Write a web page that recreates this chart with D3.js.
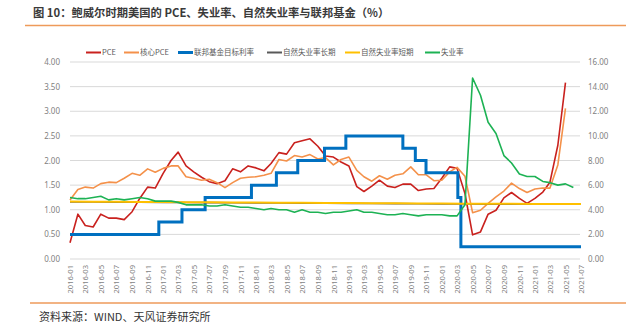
<!DOCTYPE html>
<html><head><meta charset="utf-8">
<script src="https://cdn.jsdelivr.net/npm/d3@7"></script>
<style>
html,body{margin:0;padding:0;background:#fff;}
svg{display:block;font-family:"Noto Sans CJK SC","Noto Sans",sans-serif;}
</style></head>
<body>
<svg id="c" width="626" height="336"></svg>
<script>
// ---- data ----
const startMonth = "2016-01";
const pce = [0.33,0.91,0.68,0.65,0.91,0.83,0.83,0.80,0.96,1.23,1.46,1.44,
  1.74,2.00,2.17,1.89,1.77,1.66,1.57,1.53,1.59,1.83,1.77,1.89,
  1.85,1.79,1.94,2.16,2.13,2.36,2.40,2.44,2.29,2.09,2.07,1.97,
  1.89,1.47,1.37,1.48,1.60,1.48,1.45,1.52,1.52,1.39,1.42,1.43,
  1.64,1.87,1.84,1.33,0.49,0.55,0.91,0.99,1.24,1.35,1.23,1.13,
  1.23,1.36,1.56,2.31,3.58];
const corePce = [1.20,1.41,1.46,1.44,1.53,1.56,1.55,1.64,1.74,1.70,1.83,1.76,
  1.84,1.89,1.89,1.67,1.64,1.60,1.62,1.55,1.45,1.55,1.64,1.66,
  1.67,1.70,1.74,2.02,1.99,2.10,2.07,2.12,2.03,2.06,1.91,2.02,
  2.07,1.80,1.67,1.58,1.69,1.62,1.70,1.73,1.87,1.71,1.71,1.59,
  1.60,1.77,1.86,1.68,0.94,0.99,1.13,1.26,1.38,1.54,1.43,1.35,
  1.42,1.44,1.44,1.91,3.06];
const unemployment = [5.0,4.9,4.9,5.0,5.1,4.8,4.9,4.8,4.9,5.0,4.9,4.7,
  4.7,4.7,4.6,4.4,4.4,4.4,4.3,4.3,4.4,4.3,4.2,4.2,
  4.1,4.0,4.1,4.0,4.0,3.8,4.0,3.8,3.8,3.7,3.8,3.8,
  3.9,4.0,3.8,3.8,3.7,3.6,3.6,3.7,3.6,3.5,3.6,3.6,
  3.6,3.5,3.5,4.4,14.7,13.3,11.1,10.2,8.4,7.8,6.9,6.7,
  6.7,6.3,6.2,6.0,6.1,5.8];
// quarterly natural rate estimates (2016Q1 ... 2021Q3)
const nruLong = [4.64,4.63,4.62,4.61,4.60,4.59,4.58,4.57,4.56,4.55,4.54,4.53,
  4.52,4.51,4.50,4.49,4.48,4.47,4.46,4.46,4.45,4.45,4.45];
const nruShort = [4.66,4.65,4.64,4.63,4.62,4.61,4.60,4.59,4.58,4.57,4.56,4.55,
  4.54,4.53,4.52,4.51,4.50,4.49,4.48,4.48,4.47,4.47,4.47];
const fedDates = ["2016-01-01","2016-12-15","2017-03-16","2017-06-15","2017-12-14",
  "2018-03-22","2018-06-14","2018-09-27","2018-12-20","2019-08-01","2019-09-19",
  "2019-10-31","2020-03-04","2020-03-16","2021-07-01"];
const fedRate = [0.50,0.75,1.00,1.25,1.50,1.75,2.00,2.25,2.50,2.25,2.00,1.75,1.25,0.25,0.25];
const leftTicks = [0,0.5,1,1.5,2,2.5,3,3.5,4];
const rightTicks = [0,2,4,6,8,10,12,14,16];
const xTickLabels = ["2016-01","2016-03","2016-05","2016-07","2016-09","2016-11",
  "2017-01","2017-03","2017-05","2017-07","2017-09","2017-11",
  "2018-01","2018-03","2018-05","2018-07","2018-09","2018-11",
  "2019-01","2019-03","2019-05","2019-07","2019-09","2019-11",
  "2020-01","2020-03","2020-05","2020-07","2020-09","2020-11",
  "2021-01","2021-03","2021-05","2021-07"];
const seriesNames = ["PCE","核心PCE","联邦基金目标利率","自然失业率长期","自然失业率短期","失业率"];
const seriesColors = ["#C9211E","#F4914A","#0070C0","#595959","#FFC000","#1DB254"];

// ---- helpers ----
const parseM = d3.timeParse("%Y-%m");
const parseD = d3.timeParse("%Y-%m-%d");
const m0 = parseM(startMonth);
const monthly = arr => arr.map((v,i)=>({d:d3.timeMonth.offset(m0,i), v}));
const quarterly = arr => arr.map((v,i)=>({d:d3.timeMonth.offset(m0,i*3), v}));

const svg = d3.select("#c");
const x = d3.scaleTime().domain([parseM("2016-01"), parseM("2021-07")]).range([70, 581]);
const yL = d3.scaleLinear().domain([0,4]).range([259, 62]);
const yR = d3.scaleLinear().domain([0,16]).range([259, 62]);

// title
svg.append("text").attr("x",33).attr("y",17).attr("font-size",11.3).attr("font-weight","bold")
  .attr("fill","#3a3a3a").text("图 10：鲍威尔时期美国的 PCE、失业率、自然失业率与联邦基金（%）");
svg.append("line").attr("x1",25).attr("x2",626).attr("y1",25.5).attr("y2",25.5)
  .attr("stroke","#EE9A5A").attr("stroke-width",1.5);
svg.append("line").attr("x1",30).attr("x2",626).attr("y1",303).attr("y2",303)
  .attr("stroke","#EE9A5A").attr("stroke-width",1.5);
svg.append("text").attr("x",39).attr("y",321).attr("font-size",11)
  .attr("fill","#333").text("资料来源：WIND、天风证券研究所");

// gridlines
svg.append("g").selectAll("line").data(leftTicks).join("line")
  .attr("x1",70).attr("x2",580).attr("y1",d=>yL(d)).attr("y2",d=>yL(d))
  .attr("stroke","#d9d9d9").attr("stroke-width",1);

// left axis
const axL = svg.append("g").attr("transform","translate(70,0)")
  .call(d3.axisLeft(yL).tickValues(leftTicks).tickFormat(d3.format(".2f")).tickSize(0).tickPadding(10));
axL.select(".domain").remove();
axL.selectAll("text").attr("font-size",8).attr("fill","#7f7f7f").attr("font-family","'Noto Sans','DejaVu Sans',sans-serif");
// right axis
const axR = svg.append("g").attr("transform","translate(580,0)")
  .call(d3.axisRight(yR).tickValues(rightTicks).tickFormat(d3.format(".2f")).tickSize(0).tickPadding(8));
axR.select(".domain").remove();
axR.selectAll("text").attr("font-size",8).attr("fill","#7f7f7f").attr("font-family","'Noto Sans','DejaVu Sans',sans-serif");
// x axis
const axX = svg.append("g").attr("transform","translate(0,259)")
  .call(d3.axisBottom(x).tickValues(xTickLabels.map(parseM)).tickFormat(d3.timeFormat("%Y-%m")).tickSize(0));
axX.select(".domain").remove();
axX.selectAll("text").attr("font-size",7.6).attr("fill","#7f7f7f")
  .attr("font-family","'Noto Sans','DejaVu Sans',sans-serif")
  .attr("text-anchor","end").attr("transform","rotate(-90)")
  .attr("x",-6).attr("y",0).attr("dy","0.35em");

// lines
const lineL = d3.line().x(d=>x(d.d)).y(d=>yL(d.v));
const lineR = d3.line().x(d=>x(d.d)).y(d=>yR(d.v));
const stepL = d3.line().x(d=>x(d.d)).y(d=>yL(d.v)).curve(d3.curveStepAfter);
const g = svg.append("g").attr("fill","none").attr("stroke-linejoin","round");
g.append("path").attr("d",lineL(monthly(pce))).attr("stroke",seriesColors[0]).attr("stroke-width",1.6);
g.append("path").attr("d",lineL(monthly(corePce))).attr("stroke",seriesColors[1]).attr("stroke-width",1.6);
g.append("path").attr("d",stepL(fedDates.map((s,i)=>({d:parseD(s),v:fedRate[i]}))))
  .attr("stroke",seriesColors[2]).attr("stroke-width",3).attr("stroke-linejoin","miter");
g.append("path").attr("d",lineR(quarterly(nruLong))).attr("stroke",seriesColors[3]).attr("stroke-width",1.6);
g.append("path").attr("d",lineR(quarterly(nruShort))).attr("stroke",seriesColors[4]).attr("stroke-width",2);
g.append("path").attr("d",lineR(monthly(unemployment))).attr("stroke",seriesColors[5]).attr("stroke-width",1.6);

// legend
const legX = [86,124,178,267,345,425];
const leg = svg.append("g");
seriesNames.forEach((n,i)=>{
  leg.append("line").attr("x1",legX[i]).attr("x2",legX[i]+15).attr("y1",52.5).attr("y2",52.5)
    .attr("stroke",seriesColors[i]).attr("stroke-width",i===2?3:2);
  leg.append("text").attr("x",legX[i]+16).attr("y",52.5).attr("dy","0.35em")
    .attr("font-size",7.5).attr("fill","#595959").text(n);
});
</script>
</body></html>
